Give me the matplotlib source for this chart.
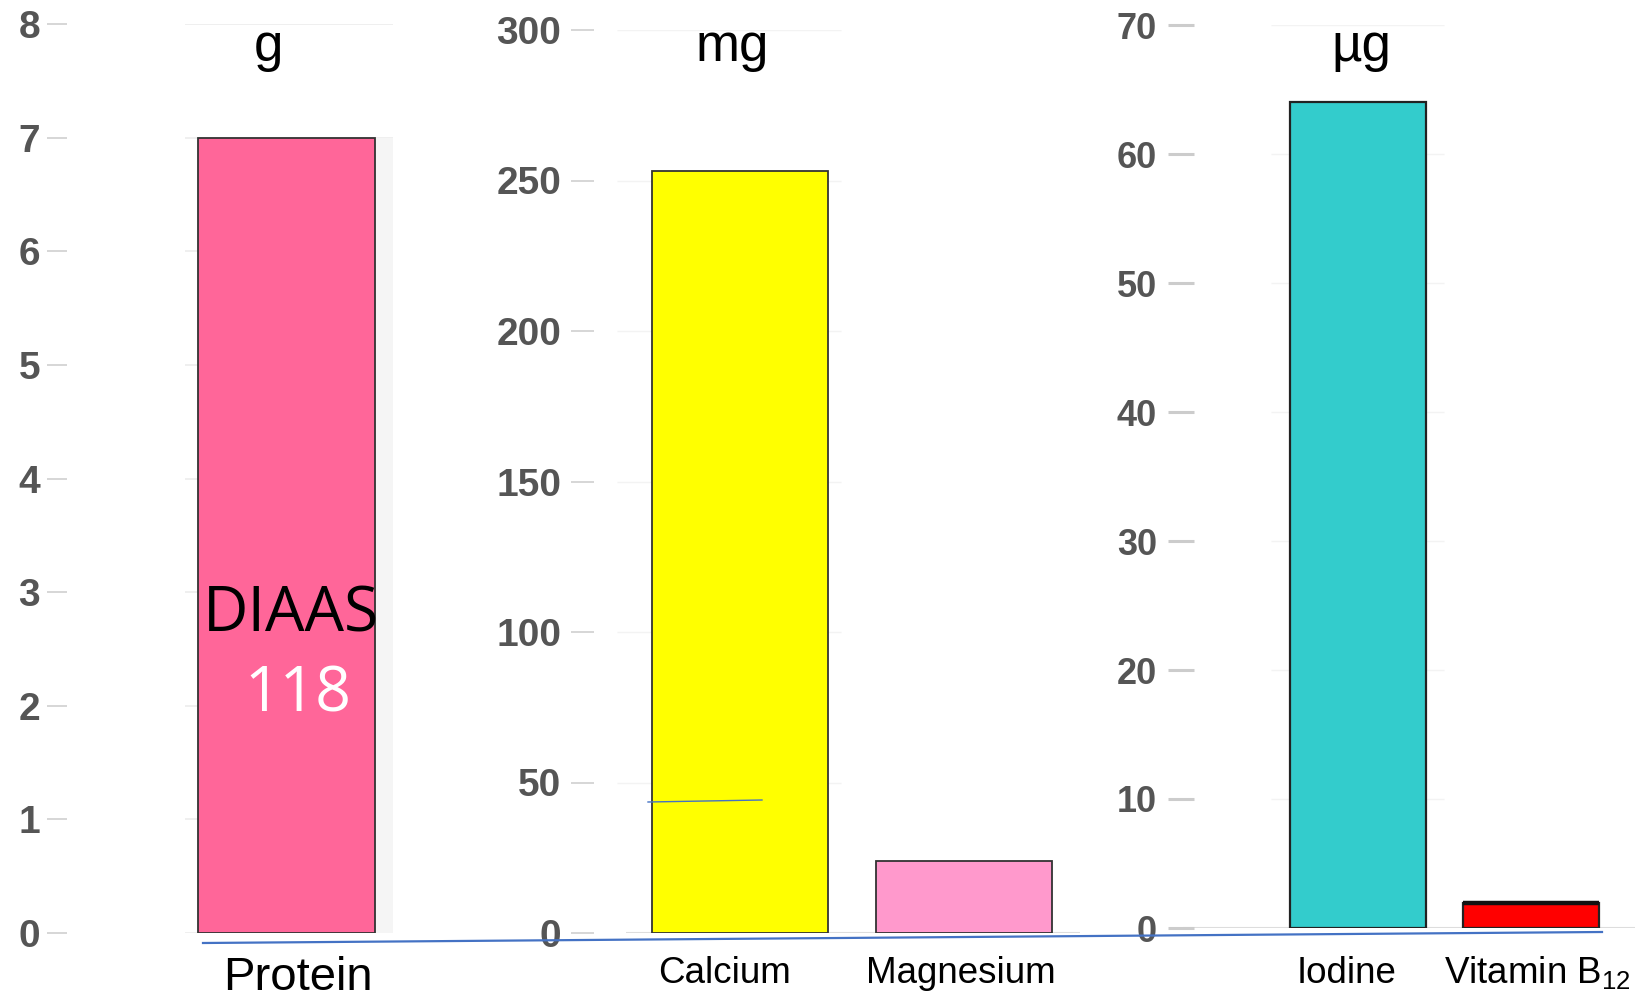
import matplotlib
matplotlib.use("Agg")
import matplotlib.pyplot as plt
from matplotlib.lines import Line2D

W, H, DPI = 1635, 999, 100
PT = 72 / DPI  # points per pixel

# amounts per serving, grouped by unit
protein_names = ["Protein"]
protein_g = [7.0]
mineral_names = ["Calcium", "Magnesium"]
mineral_mg = [253, 24]
trace_names = ["Iodine", "Vitamin B$_{12}$"]
trace_ug = [64, 1.9]
diaas_score = 118

g_ticks = list(range(0, 9))
mg_ticks = list(range(0, 301, 50))
ug_ticks = list(range(0, 71, 10))

protein_colors = ["#ff6699"]
mineral_colors = ["#ffff00", "#ff99cc"]
trace_colors = ["#33cccc", "#ff0000"]

plt.rcParams["font.family"] = ["Liberation Sans", "DejaVu Sans"]
plt.rcParams["mathtext.default"] = "regular"

fig = plt.figure(figsize=(W / DPI, H / DPI), dpi=DPI)
fig.patch.set_facecolor("white")


def px_axes(left, right, y_zero, y_top):
    # pixel box (origin top-left) -> figure fraction
    return fig.add_axes([left / W, 1 - y_zero / H, (right - left) / W, (y_zero - y_top) / H])


def style_axes(ax, ticks, size, tick_len, tick_w, tick_pad, tick_col):
    for s in ax.spines.values():
        s.set_visible(False)
    ax.set_yticks(ticks)
    ax.set_yticklabels([str(t) for t in ticks])
    ax.tick_params(axis="y", direction="in", length=tick_len, width=tick_w,
                   color=tick_col, pad=tick_pad, labelsize=size, labelcolor="#555555")
    for lab in ax.get_yticklabels():
        lab.set_fontweight("bold")
    ax.set_xticks([])
    ax.patch.set_alpha(0)


def name_labels(ax, names, offsets, size):
    # category names hung under each bar, offsets in pixels (dx, drop below zero)
    for i, (name, (dx, drop)) in enumerate(zip(names, offsets)):
        ax.annotate(name, xy=(i, 0), xytext=(dx * PT, -drop * PT), textcoords="offset points",
                    ha="center", va="baseline", fontsize=size, annotation_clip=False)


# ---- grams panel
ax1 = px_axes(47, 400, 933, 24.3)
ax1.set_ylim(0, 8)
ax1.set_xlim(-1.082, 0.513)
ax1.hlines(g_ticks, -0.459, 0.481, color="#ececec", lw=1.2, zorder=0)
x1 = list(range(len(protein_g)))
ax1.bar([x + 0.081 for x in x1], protein_g, width=0.8, color="#f5f5f5", zorder=1)
ax1.bar(x1, protein_g, width=0.8, color=protein_colors, edgecolor="#333333", lw=1.3, zorder=2)
ax1.text(0.02, 2.65, "DIAAS", ha="center", va="baseline", fontsize=45,
         family=["Open Sans", "DejaVu Sans"], color="black", zorder=3)
ax1.text(0.05, 1.95, str(diaas_score), ha="center", va="baseline", fontsize=45,
         family=["Open Sans", "DejaVu Sans"], color="white", zorder=3)
style_axes(ax1, g_ticks, 28, 14.4, 1.4, 5, "#d6d6d6")
name_labels(ax1, protein_names, [(11, 57)], 34)

# ---- milligrams panel
ax2 = px_axes(571, 1080, 933, 30)
ax2.set_ylim(0, 300)
ax2.set_xlim(-0.754, 1.518)
ax2.hlines(mg_ticks[1:], -0.55, 0.45, color="#f3f3f3", lw=1.0, zorder=0)
ax2.hlines(0, -0.509, 1.518, color="#dddddd", lw=1.5, zorder=0)
x2 = list(range(len(mineral_mg)))
ax2.bar(x2, mineral_mg, width=0.785, color=mineral_colors, edgecolor="#333333", lw=1.3, zorder=2)
style_axes(ax2, mg_ticks, 28, 16.5, 1.4, 7, "#d6d6d6")
name_labels(ax2, mineral_names, [(-15, 50), (-3, 50)], 26.5)

# ---- micrograms panel
ax3 = px_axes(1168, 1635, 928, 25)
ax3.set_ylim(0, 70)
ax3.set_xlim(-1.098, 1.601)
ax3.hlines(ug_ticks[1:], -0.5, 0.5, color="#f3f3f3", lw=1.0, zorder=0)
ax3.hlines(0, -1.01, 1.601, color="#dddddd", lw=1.5, zorder=0)
x3 = list(range(len(trace_ug)))
ax3.bar(x3, trace_ug, width=0.786, color=trace_colors, edgecolor="#222222", lw=1.6, zorder=2)
# heavier rim along the top of the small bar
ax3.hlines(trace_ug[1], x3[1] - 0.393, x3[1] + 0.393, color="#111111", lw=3.2, zorder=3)
style_axes(ax3, ug_ticks, 26, 18.7, 2.2, 8, "#cccccc")
name_labels(ax3, trace_names, [(-11, 55), (6, 55)], 26.5)

# unit headers
for txt, xp in [("g", 268), ("mg", 732), ("µg", 1361)]:
    fig.text(xp / W, 1 - 61 / H, txt, ha="center", va="baseline", fontsize=38)

# hand-drawn connector lines
fig.add_artist(Line2D([203 / W, 1602 / W], [1 - 943 / H, 1 - 932 / H],
                      color="#4472c4", lw=1.6))
fig.add_artist(Line2D([648 / W, 762 / W], [1 - 802 / H, 1 - 800 / H],
                      color="#4472c4", lw=1.0))

fig.savefig("out.png", dpi=DPI, facecolor="white")
